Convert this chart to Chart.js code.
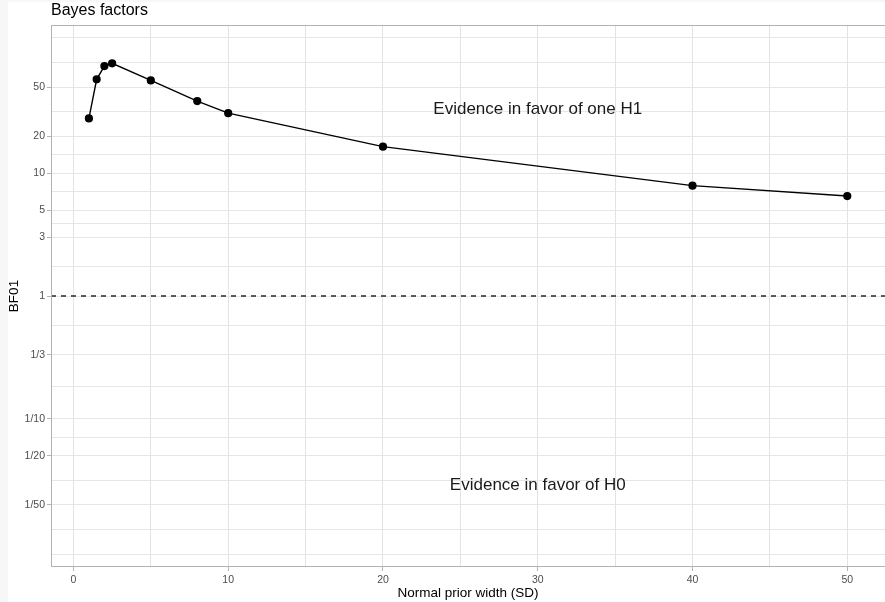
<!DOCTYPE html>
<html>
<head>
<meta charset="utf-8">
<script src="https://cdn.jsdelivr.net/npm/chart.js@4/dist/chart.umd.min.js"></script>
<style>
  html, body { margin: 0; padding: 0; overflow: hidden; background: #f7f7f7; }
  #wrap { position: absolute; left: 8px; top: 2px; width: 882px; height: 600px; background: #fff; }
</style>
</head>
<body>
<div id="wrap"><canvas id="chart"></canvas></div>
<script>
// --- data ---
const priorWidths = [1, 1.5, 2, 2.5, 5, 8, 10, 20, 40, 50];
const bf01 = [27.8, 57.8, 74.1, 78.0, 56.7, 38.5, 30.7, 16.4, 7.9, 6.5];

// y axis breaks (log scale) and their labels
const yBreaks = [1/50, 1/20, 1/10, 1/3, 1, 3, 5, 10, 20, 50];
const yLabels = ['1/50', '1/20', '1/10', '1/3', '1', '3', '5', '10', '20', '50'];
// unlabeled grid lines (geometric midpoints + outer breaks)
const yMinorGrid = [1/127, 1/80, 0.0316, 0.0707, 0.183, 0.577, 1.73, 3.87, 7.07, 14.1, 31.6, 80, 127];

// x axis
const xBreaks = [0, 5, 10, 15, 20, 25, 30, 35, 40, 45, 50];
const xLabelled = [0, 10, 20, 30, 40, 50];

// text annotations
const noteText = ['Evidence in favor of one H1', 'Evidence in favor of H0'];
const noteX = [30, 30];
const noteY = [33, 0.029];

const FONT = '"Liberation Sans", Arial, sans-serif';

// horizontal dashed line at BF = 1, panel border, title, annotations
const extras = {
  id: 'extras',
  beforeDatasetsDraw(chart) {
    const { ctx, chartArea: a, scales } = chart;
    const y1 = scales.y.getPixelForValue(1);
    ctx.save();
    ctx.strokeStyle = '#333';
    ctx.lineWidth = 1.6;
    ctx.setLineDash([5, 5]);
    ctx.beginPath();
    ctx.moveTo(a.left, y1);
    ctx.lineTo(a.right, y1);
    ctx.stroke();
    ctx.restore();
  },
  afterDraw(chart) {
    const { ctx, chartArea: a, scales } = chart;
    ctx.save();
    // panel border
    ctx.strokeStyle = '#b3b3b3';
    ctx.lineWidth = 1;
    ctx.strokeRect(a.left + 0.5, a.top + 0.5, a.right - a.left, a.bottom - a.top - 1);
    // title
    ctx.fillStyle = '#000';
    ctx.font = '16px ' + FONT;
    ctx.textAlign = 'left';
    ctx.textBaseline = 'alphabetic';
    ctx.fillText('Bayes factors', a.left, 13);
    // annotations
    ctx.font = '17px ' + FONT;
    ctx.fillStyle = '#1a1a1a';
    ctx.textAlign = 'center';
    ctx.textBaseline = 'middle';
    noteText.forEach((t, i) => {
      ctx.fillText(t, scales.x.getPixelForValue(noteX[i]), scales.y.getPixelForValue(noteY[i]));
    });
    ctx.restore();
  }
};

const ctx = document.getElementById('chart').getContext('2d');
new Chart(ctx, {
  type: 'line',
  data: {
    datasets: [{
      data: priorWidths.map((x, i) => ({ x: x, y: bf01[i] })),
      borderColor: '#000',
      backgroundColor: '#000',
      borderWidth: 1.4,
      pointRadius: 3.4,
      pointHoverRadius: 3.4,
      tension: 0
    }]
  },
  options: {
    responsive: true,
    maintainAspectRatio: false,
    animation: false,
    layout: { padding: { top: 23, right: 2, left: 0, bottom: 0 } },
    plugins: { legend: { display: false }, tooltip: { enabled: false }, title: { display: false } },
    scales: {
      x: {
        type: 'linear',
        min: -1.45,
        max: 52.45,
        afterBuildTicks: (s) => { s.ticks = xBreaks.map(v => ({ value: v })); },
        afterFit: (s) => { s.height = 35; },
        ticks: {
          autoSkip: false,
          maxRotation: 0,
          padding: 3,
          color: '#4d4d4d',
          font: { family: FONT, size: 10.5 },
          callback: (v) => xLabelled.includes(v) ? String(v) : ''
        },
        grid: {
          color: '#e3e3e3',
          lineWidth: 1,
          tickLength: 4,
          tickColor: (c) => (c.tick && xLabelled.includes(c.tick.value)) ? '#b3b3b3' : 'rgba(0,0,0,0)'
        },
        border: { display: false },
        title: {
          display: true,
          text: 'Normal prior width (SD)',
          color: '#000',
          font: { family: FONT, size: 13.5, lineHeight: 1 },
          padding: { top: 0, bottom: 2 }
        }
      },
      y: {
        type: 'logarithmic',
        min: 1 / 160,
        max: 160,
        afterBuildTicks: (s) => {
          s.ticks = yBreaks.concat(yMinorGrid).sort((a, b) => a - b).map(v => ({ value: v }));
        },
        afterFit: (s) => { s.width = 43; },
        ticks: {
          autoSkip: false,
          padding: 2,
          color: '#4d4d4d',
          font: { family: FONT, size: 10.5 },
          callback: (v) => {
            const k = yBreaks.indexOf(v);
            return k >= 0 ? yLabels[k] : '';
          }
        },
        grid: {
          color: '#e6e6e6',
          lineWidth: 1,
          tickLength: 4,
          tickColor: (c) => (c.tick && yBreaks.includes(c.tick.value)) ? '#b3b3b3' : 'rgba(0,0,0,0)'
        },
        border: { display: false },
        title: {
          display: true,
          text: 'BF01',
          color: '#000',
          font: { family: FONT, size: 13.5, lineHeight: 1 },
          padding: { top: 0, bottom: 0 }
        }
      }
    }
  },
  plugins: [extras]
});
</script>
</body>
</html>
